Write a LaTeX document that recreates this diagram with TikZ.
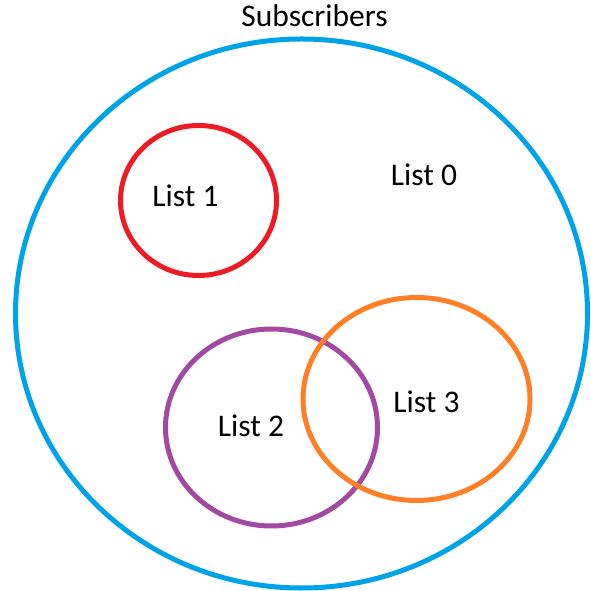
\documentclass[tikz,border=0pt]{standalone}
\usepackage{fontspec}
\setmainfont{Carlito}
\definecolor{pblue}{RGB}{0,162,232}
\definecolor{pred}{RGB}{237,28,36}
\definecolor{ppurple}{RGB}{163,73,164}
\definecolor{porange}{RGB}{255,127,39}
\tikzset{
  ring/.style={line width=5pt},
  lbl/.style={anchor=base,inner sep=0pt,font=\fontsize{31.5}{38}\selectfont}
}
\begin{document}
\begin{tikzpicture}[x=1pt,y=1pt]
\useasboundingbox (0,0) rectangle (590,591);
\draw[ring,pblue] (301.5,277.5) ellipse [x radius=286, y radius=274.5];
\draw[ring,pred] (198.5,390.5) ellipse [x radius=78, y radius=75];
\draw[ring,ppurple] (271.5,163.5) ellipse [x radius=106, y radius=98.5];
\draw[ring,porange] (416.5,192) ellipse [x radius=113.5, y radius=101.5];
\node[lbl] (subs) at (314.5,564) {Subscribers};
\node[lbl] (l0) at (424,405) {List 0};
\node[lbl] (l1) at (185.5,384) {List 1};
\node[lbl] (l2) at (251,154) {List 2};
\node[lbl] (l3) at (426.5,178) {List 3};
\end{tikzpicture}
\end{document}
